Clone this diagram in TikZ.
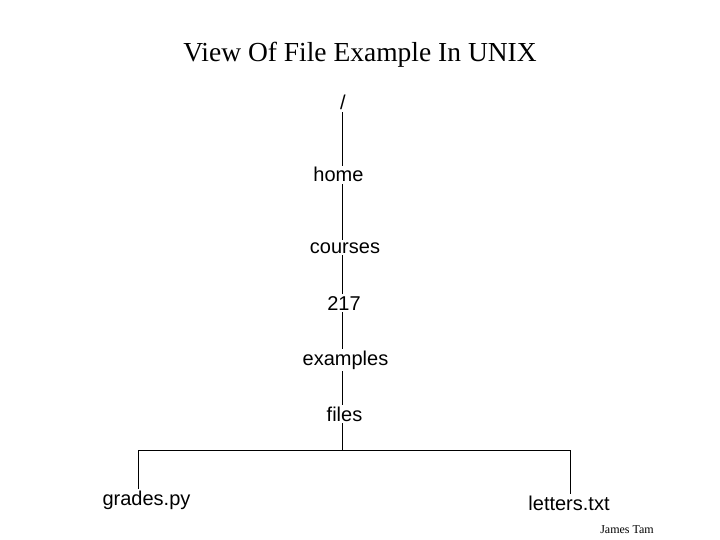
\documentclass[tikz,border=0pt]{standalone}
\usepackage{fontspec}
\setmainfont{Liberation Serif}
\setsansfont{Liberation Sans}
\usetikzlibrary{calc}

\begin{document}
\begin{tikzpicture}[x=1pt,y=-1pt,
  dir/.style={font=\sffamily\fontsize{20}{24}\selectfont,inner sep=2pt,outer sep=0pt,anchor=base},
  link/.style={thin,black}]

\useasboundingbox (0,0) rectangle (720,540);

\node[font=\fontsize{27.5}{32}\selectfont,anchor=base] (title) at (360,62) {View Of File Example In UNIX};

\coordinate (trunk) at (342,0);
\node[dir] (root) at (343,110) {/};
\node[dir] (home) at (338.5,182) {home};
\node[dir] (courses) at (345,253) {courses};
\node[dir] (num) at (344,310) {217};
\node[dir] (examples) at (345.5,365) {examples};
\node[dir] (files) at (344.5,421) {files};
\node[dir] (grades) at (146.5,505) {grades.py};
\node[dir] (letters) at (569,510) {letters.txt};

\coordinate (fork) at (342,450);
\coordinate (forkl) at (138,450);
\coordinate (forkr) at (570,450);

\draw[link] (root.south -| trunk) -- (home.north -| trunk);
\draw[link] (home.south -| trunk) -- (courses.north -| trunk);
\draw[link] (courses.south -| trunk) -- (num.north -| trunk);
\draw[link] (num.south -| trunk) -- (examples.north -| trunk);
\draw[link] (examples.south -| trunk) -- (files.north -| trunk);
\draw[link] (files.south -| trunk) -- (fork);
\draw[link] (forkl) -- (forkr);
\draw[link] (forkl) -- (forkl |- grades.north);
\draw[link] (forkr) -- (forkr |- letters.north);

\node[font=\fontsize{12}{14}\selectfont,anchor=base] (author) at (627,533) {James Tam};

\end{tikzpicture}
\end{document}
